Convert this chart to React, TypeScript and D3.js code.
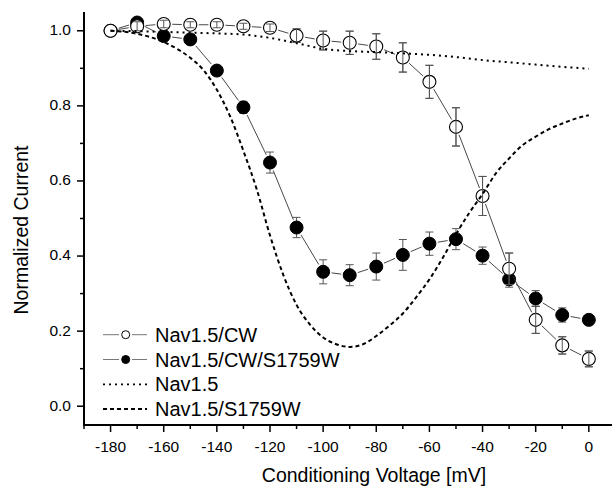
import React from "react";
import * as d3 from "d3";

const voltages = [-180, -170, -160, -150, -140, -130, -120, -110, -100, -90, -80, -70, -60, -50, -40, -30, -20, -10, 0];
const cwValues = [1.0, 1.012, 1.018, 1.016, 1.016, 1.012, 1.008, 0.987, 0.974, 0.968, 0.958, 0.929, 0.864, 0.744, 0.56, 0.366, 0.23, 0.162, 0.126];
const cwErrors = [0, 0.012, 0.01, 0.008, 0.008, 0.008, 0.01, 0.018, 0.025, 0.031, 0.034, 0.039, 0.044, 0.051, 0.052, 0.042, 0.036, 0.023, 0.021];
const mutValues = [1.0, 1.022, 0.986, 0.977, 0.894, 0.796, 0.649, 0.476, 0.358, 0.349, 0.372, 0.403, 0.433, 0.445, 0.401, 0.338, 0.287, 0.243, 0.23];
const mutErrors = [0, 0.01, 0.01, 0.01, 0.012, 0.016, 0.028, 0.027, 0.032, 0.028, 0.036, 0.041, 0.031, 0.028, 0.023, 0.021, 0.021, 0.019, 0.012];

const wtVoltages = [-180, -170, -160, -150, -140, -130, -120, -110, -100, -90, -80, -70, -60, -50, -40, -30, -20, -10, 0];
const wtValues = [1.0, 0.999, 0.997, 0.995, 0.993, 0.99, 0.981, 0.967, 0.952, 0.946, 0.943, 0.94, 0.936, 0.93, 0.922, 0.916, 0.91, 0.904, 0.899];

const s1759Voltages = [-180, -170, -160, -155, -150, -145, -140, -135, -130, -125, -120, -115, -110, -105, -100, -95, -90, -85, -80, -75, -70, -65, -60, -55, -50, -45, -40, -35, -30, -25, -20, -15, -10, -5, 0];
const s1759Values = [1.0, 0.992, 0.97, 0.952, 0.928, 0.895, 0.843, 0.772, 0.68, 0.578, 0.455, 0.35, 0.27, 0.218, 0.183, 0.165, 0.158, 0.165, 0.187, 0.215, 0.247, 0.29, 0.338, 0.395, 0.458, 0.515, 0.565, 0.62, 0.66, 0.695, 0.718, 0.738, 0.753, 0.766, 0.775];

const xTicks = [-180, -160, -140, -120, -100, -80, -60, -40, -20, 0];
const xMinor = [-190, -170, -150, -130, -110, -90, -70, -50, -30, -10, 10];
const yTicks = [0.0, 0.2, 0.4, 0.6, 0.8, 1.0];
const yMinor = [0.1, 0.3, 0.5, 0.7, 0.9];

const legendLabels = ["Nav1.5/CW", "Nav1.5/CW/S1759W", "Nav1.5", "Nav1.5/S1759W"];

const FONT = "'Liberation Sans', Arial, Helvetica, sans-serif";

export default function App() {
  const x = d3.scaleLinear().domain([-190, 10]).range([84, 615.4]);
  const y = d3.scaleLinear().domain([-0.05, 1.05]).range([425, 12]);
  const r = 6.5;

  const curve = d3
    .line<[number, number]>()
    .x((d) => x(d[0]))
    .y((d) => y(d[1]))
    .curve(d3.curveMonotoneX);

  const wtPts: [number, number][] = wtVoltages.map((v, i) => [v, wtValues[i]]);
  const mutCurvePts: [number, number][] = s1759Voltages.map((v, i) => [v, s1759Values[i]]);

  const segments = (vals: number[]) => {
    const out: JSX.Element[] = [];
    for (let i = 0; i < vals.length - 1; i++) {
      const x1 = x(voltages[i]);
      const y1 = y(vals[i]);
      const x2 = x(voltages[i + 1]);
      const y2 = y(vals[i + 1]);
      const dx = x2 - x1;
      const dy = y2 - y1;
      const len = Math.sqrt(dx * dx + dy * dy);
      const g = r + 2;
      if (len <= 2 * g) continue;
      const ux = dx / len;
      const uy = dy / len;
      out.push(
        <line
          key={i}
          x1={x1 + ux * g}
          y1={y1 + uy * g}
          x2={x2 - ux * g}
          y2={y2 - uy * g}
          stroke="#333"
          strokeWidth={0.9}
        />
      );
    }
    return out;
  };

  const errBars = (vals: number[], errs: number[]) =>
    vals.map((v, i) => {
      if (errs[i] <= 0) return null;
      const cx = x(voltages[i]);
      const yt = y(v + errs[i]);
      const yb = y(v - errs[i]);
      return (
        <g key={i} stroke="#555" strokeWidth={1}>
          <line x1={cx} x2={cx} y1={yt} y2={yb} />
          <line x1={cx - 4} x2={cx + 4} y1={yt} y2={yt} />
          <line x1={cx - 4} x2={cx + 4} y1={yb} y2={yb} />
        </g>
      );
    });

  const legendBase = [341.7, 366.5, 391.3, 416];

  return (
    <svg
      width={612}
      height={490}
      style={{ position: "absolute", left: 0, top: 0, background: "#fff" }}
      fontFamily={FONT}
    >
      <rect x={0} y={0} width={612} height={490} fill="#fff" />

      {/* axes */}
      <line x1={84} x2={84} y1={12} y2={426} stroke="#000" strokeWidth={2} />
      <line x1={83} x2={615} y1={425} y2={425} stroke="#000" strokeWidth={2} />
      {yTicks.map((t) => (
        <g key={"yt" + t}>
          <line x1={77} x2={84} y1={y(t)} y2={y(t)} stroke="#000" strokeWidth={1.5} />
          <text x={71} y={y(t) - 1} dy="0.35em" textAnchor="end" fontSize={15.5} fill="#000">
            {t.toFixed(1)}
          </text>
        </g>
      ))}
      {yMinor.map((t) => (
        <line key={"ym" + t} x1={80} x2={84} y1={y(t)} y2={y(t)} stroke="#000" strokeWidth={1.5} />
      ))}
      {xTicks.map((t) => (
        <g key={"xt" + t}>
          <line x1={x(t)} x2={x(t)} y1={425} y2={432} stroke="#000" strokeWidth={1.5} />
          <text x={x(t)} y={452} textAnchor="middle" fontSize={15.5} fill="#000">
            {t}
          </text>
        </g>
      ))}
      {xMinor.map((t) => (
        <line key={"xm" + t} x1={x(t)} x2={x(t)} y1={425} y2={429} stroke="#000" strokeWidth={1.5} />
      ))}

      <text x={374} y={482} textAnchor="middle" fontSize={19.5} fill="#000">
        Conditioning Voltage [mV]
      </text>
      <text
        transform="translate(27.5,230) rotate(-90)"
        textAnchor="middle"
        fontSize={19.5}
        fill="#000"
      >
        Normalized Current
      </text>

      {/* filled series */}
      <g>
        {segments(mutValues)}
        {errBars(mutValues, mutErrors)}
        {mutValues.map((v, i) => (
          <circle key={i} cx={x(voltages[i])} cy={y(v)} r={r} fill="#000" stroke="#000" strokeWidth={1} />
        ))}
      </g>

      {/* open series */}
      <g>
        {segments(cwValues)}
        {errBars(cwValues, cwErrors)}
        {cwValues.map((v, i) => (
          <circle key={i} cx={x(voltages[i])} cy={y(v)} r={r} fill="#fff" stroke="#000" strokeWidth={1.1} />
        ))}
        {errBars(cwValues, cwErrors)}
      </g>

      {/* fitted curves */}
      <path d={curve(wtPts) || ""} fill="none" stroke="#000" strokeWidth={2} strokeDasharray="2,4" />
      <path d={curve(mutCurvePts) || ""} fill="none" stroke="#000" strokeWidth={2} strokeDasharray="4,3" />

      {/* legend */}
      {legendLabels.map((lab, i) => {
        const cy = legendBase[i] - 7;
        return (
          <g key={lab}>
            {i < 2 ? (
              <g>
                <line x1={103} x2={119} y1={cy} y2={cy} stroke="#777" strokeWidth={1} />
                <line x1={132} x2={147} y1={cy} y2={cy} stroke="#777" strokeWidth={1} />
                <circle cx={125.7} cy={cy} r={4} fill={i === 0 ? "#fff" : "#000"} stroke="#000" strokeWidth={1} />
              </g>
            ) : (
              <line
                x1={103}
                x2={147}
                y1={cy}
                y2={cy}
                stroke="#000"
                strokeWidth={1.8}
                strokeDasharray={i === 2 ? "2,4" : "4,3"}
              />
            )}
            <text x={155} y={legendBase[i]} fontSize={20} fill="#000">
              {lab}
            </text>
          </g>
        );
      })}
    </svg>
  );
}
